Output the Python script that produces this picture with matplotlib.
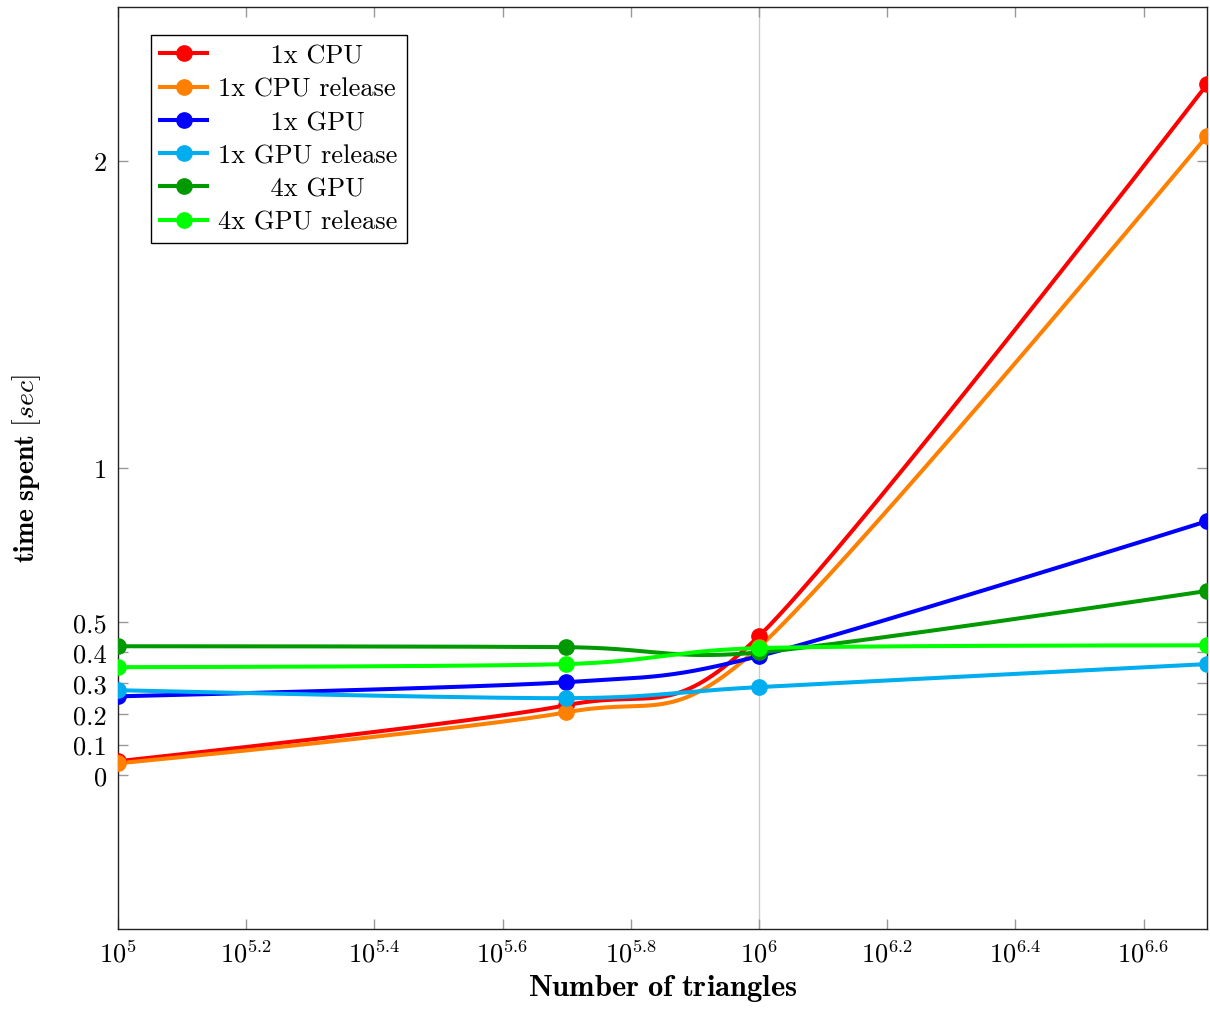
import numpy as np
import matplotlib
matplotlib.use('Agg')
import matplotlib.pyplot as plt

plt.rcParams['font.family'] = ['cmr10', 'DejaVu Serif']
plt.rcParams['mathtext.fontset'] = 'cm'
plt.rcParams['axes.unicode_minus'] = False

# number of triangles
tris = [1e5, 5e5, 1e6, 5e6]

# time spent [sec]
cpu_1x = [0.046, 0.228, 0.453, 2.248]
cpu_1x_rel = [0.039, 0.205, 0.417, 2.080]
gpu_1x = [0.257, 0.303, 0.388, 0.827]
gpu_1x_rel = [0.277, 0.251, 0.287, 0.362]
gpu_4x = [0.420, 0.417, 0.400, 0.600]
gpu_4x_rel = [0.352, 0.362, 0.414, 0.423]

series = [
    ('1x CPU', cpu_1x, '#ff0000'),
    ('1x CPU release', cpu_1x_rel, '#ff8000'),
    ('1x GPU', gpu_1x, '#0000ff'),
    ('1x GPU release', gpu_1x_rel, '#00aeef'),
    ('4x GPU', gpu_4x, '#009900'),
    ('4x GPU release', gpu_4x_rel, '#00ff00'),
]

xtick_exp = [5, 5.2, 5.4, 5.6, 5.8, 6, 6.2, 6.4, 6.6]
ytick_vals = [0, 0.1, 0.2, 0.3, 0.4, 0.5, 1, 2]
ytick_labels = ['0', '0.1', '0.2', '0.3', '0.4', '0.5', '1', '2']


def smooth(xs, ys, k=0.14, n=80):
    # pgf-like smooth curve, built in (log x, y) space
    p = np.column_stack([np.log10(xs), ys])
    out = []
    m = len(p)
    for i in range(m - 1):
        a, b = p[i], p[i + 1]
        c1 = a if i == 0 else a + k * (p[i + 1] - p[i - 1])
        c2 = b if i == m - 2 else b - k * (p[i + 2] - p[i])
        t = np.linspace(0, 1, n)[:, None]
        seg = ((1 - t) ** 3) * a + 3 * ((1 - t) ** 2) * t * c1 + 3 * (1 - t) * t ** 2 * c2 + t ** 3 * b
        out.append(seg if i == 0 else seg[1:])
    out = np.vstack(out)
    return 10 ** out[:, 0], out[:, 1]


fig = plt.figure(figsize=(12.1, 10.12), dpi=100)
ax = fig.add_axes([118 / 1210, 1 - 930 / 1012, (1207 - 118) / 1210, (930 - 8) / 1012])
ax.set_xscale('log')

ax.axvline(1e6, color='#cccccc', lw=1.0, zorder=0)

handles = []
for name, vals, col in series:
    sx, sy = smooth(tris, vals)
    ax.plot(sx, sy, color=col, lw=2.9, solid_capstyle='round', zorder=2)
    ax.plot(tris, vals, 'o', color=col, ms=11, zorder=3)
    h, = ax.plot([], [], '-o', color=col, lw=2.9, ms=11)
    handles.append(h)

ax.set_xlim(1e5, 5e6)
ax.set_ylim(-0.5, 2.5)

ax.set_xticks([10 ** e for e in xtick_exp])
ax.set_xticklabels([r'$10^{%g}$' % e for e in xtick_exp])
ax.xaxis.set_minor_locator(matplotlib.ticker.NullLocator())
ax.set_yticks(ytick_vals)
ax.set_yticklabels(ytick_labels)

ax.tick_params(axis='both', which='major', direction='in', length=7, width=1,
               color='#999999', labelsize=19, top=True, right=True, pad=8)

for s in ax.spines.values():
    s.set_linewidth(1.0)
    s.set_color('#222222')

ax.set_xlabel(r'$\mathbf{Number\ of\ triangles}$', fontsize=22, labelpad=4)
ax.set_ylabel(r'$\mathbf{time\ spent}\ [sec]$', fontsize=20, labelpad=22)

pad = '      '
labels = [pad + '1x CPU', '1x CPU release', pad + '1x GPU', '1x GPU release',
          pad + '4x GPU', '4x GPU release']
leg = ax.legend(handles, labels, loc='upper left', bbox_to_anchor=(0.03, 0.97),
                fontsize=19, frameon=True, fancybox=False, framealpha=1,
                edgecolor='black', handlelength=1.8, handletextpad=0.4,
                labelspacing=0.36, borderpad=0.35, borderaxespad=0)
leg.get_frame().set_linewidth(1.0)

fig.savefig('out.png', dpi=100)
